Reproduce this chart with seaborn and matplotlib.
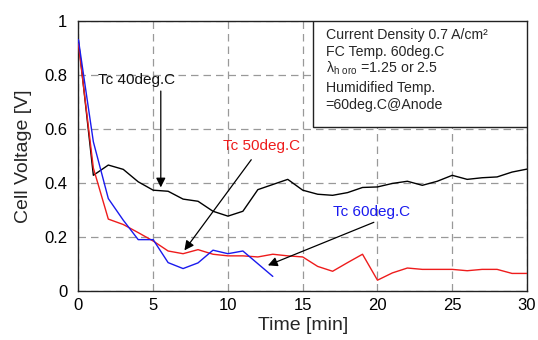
import numpy as np
import pandas as pd
import matplotlib
matplotlib.use("Agg")
import matplotlib.pyplot as plt
from matplotlib.patches import Rectangle
import seaborn as sns

# ---- data ----
t40 = list(range(0, 31))
v40 = [0.928, 0.428, 0.466, 0.450, 0.404, 0.373, 0.369, 0.340, 0.332, 0.295,
       0.277, 0.295, 0.375, 0.394, 0.413, 0.373, 0.358, 0.354, 0.364, 0.383,
       0.385, 0.398, 0.406, 0.391, 0.406, 0.428, 0.413, 0.419, 0.422, 0.440, 0.451]
t50 = list(range(0, 31))
v50 = [0.915, 0.455, 0.266, 0.246, 0.216, 0.185, 0.148, 0.138, 0.153, 0.136,
       0.130, 0.130, 0.126, 0.136, 0.130, 0.126, 0.091, 0.073, 0.105, 0.136,
       0.040, 0.067, 0.085, 0.080, 0.080, 0.080, 0.075, 0.080, 0.080, 0.065, 0.065]
t60 = list(range(0, 14))
v60 = [0.930, 0.552, 0.342, 0.262, 0.190, 0.190, 0.105, 0.083, 0.104, 0.151,
       0.138, 0.148, 0.101, 0.054]
series_names = ["Tc 40deg.C", "Tc 50deg.C", "Tc 60deg.C"]
series_colors = ["black", "#ee1c1c", "#1a1aee"]
x_ticks = [0, 5, 10, 15, 20, 25, 30]
y_ticks = [0, 0.2, 0.4, 0.6, 0.8, 1.0]
y_ticklabels = ["0", "0.2", "0.4", "0.6", "0.8", "1"]
info_lines = ["Current Density 0.7 A/cm²", "FC Temp. 60deg.C",
              r"λ$_{\mathrm{h\ oro}}$ =1.25 or 2.5", "Humidified Temp.",
              "=60deg.C@Anode"]

df = pd.concat([
    pd.DataFrame({"Time": t40, "V": v40, "S": series_names[0]}),
    pd.DataFrame({"Time": t50, "V": v50, "S": series_names[1]}),
    pd.DataFrame({"Time": t60, "V": v60, "S": series_names[2]}),
])

sns.set_theme(style="white")
plt.rcParams["font.family"] = ["Liberation Sans", "DejaVu Sans"]
plt.rcParams["mathtext.fontset"] = "custom"
plt.rcParams["mathtext.rm"] = "Liberation Sans"

fig = plt.figure(figsize=(5.38, 3.40), dpi=100)
ax = fig.add_axes([78.4 / 538, 49 / 340, 448.6 / 538, 270.3 / 340])

sns.lineplot(data=df, x="Time", y="V", hue="S", palette=dict(zip(series_names, series_colors)),
             linewidth=1.0, legend=False, ax=ax, zorder=3)

ax.set_xlim(0, 30)
ax.set_ylim(0, 1)
ax.set_xticks(x_ticks)
ax.set_yticks(y_ticks)
ax.set_yticklabels(y_ticklabels)
ax.tick_params(axis="both", labelsize=12, colors="black", direction="in", length=0)
ax.tick_params(axis="y", pad=8)
ax.tick_params(axis="x", pad=5)
ax.grid(True, color="#999999", linestyle=(0, (6, 4)), linewidth=0.9)
for s in ax.spines.values():
    s.set_color("#222222")
    s.set_linewidth(1.0)
ax.set_xlabel("Time [min]", fontsize=14, labelpad=3)
ax.set_ylabel("Cell Voltage [V]", fontsize=14, labelpad=9)

# annotations
ax.annotate("", xy=(5.51, 0.373), xytext=(5.51, 0.75),
            arrowprops=dict(arrowstyle="-|>", color="black", lw=0.9, mutation_scale=14), zorder=4)
ax.text(1.3, 0.78, series_names[0], fontsize=11, color="#111111", va="center", ha="left")

ax.annotate("", xy=(6.98, 0.142), xytext=(11.67, 0.494),
            arrowprops=dict(arrowstyle="-|>", color="black", lw=0.9, mutation_scale=14), zorder=4)
ax.text(9.7, 0.535, series_names[1], fontsize=11, color=series_colors[1], va="center", ha="left")

ax.annotate("", xy=(12.5, 0.091), xytext=(19.93, 0.258),
            arrowprops=dict(arrowstyle="-|>", color="black", lw=0.9, mutation_scale=14), zorder=4)
ax.text(17.05, 0.293, series_names[2], fontsize=11, color=series_colors[2], va="center", ha="left")

# info box
ax.add_patch(Rectangle((0.5236, 0.606), 0.4764, 0.394, transform=ax.transAxes,
                       facecolor="white", edgecolor="#222222", lw=1.0, zorder=5))
y0 = 0.947
for i, line in enumerate(info_lines):
    ax.text(0.551, y0 - i * 0.0615 - (0.012 if i >= 3 else 0), line, transform=ax.transAxes,
            fontsize=10.2, va="center", ha="left", zorder=6)

fig.savefig("out.png", dpi=100)
